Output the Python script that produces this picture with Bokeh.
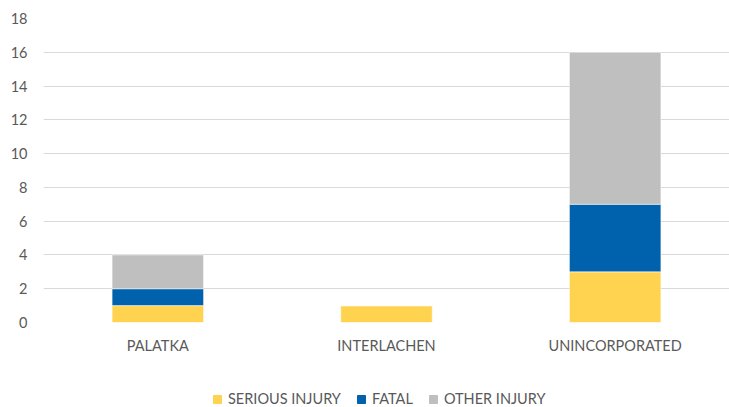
from bokeh.plotting import figure
from bokeh.models import ColumnDataSource, Range1d, FixedTicker, Legend, LegendItem
from bokeh.layouts import column
from bokeh.embed import file_html
from bokeh.resources import INLINE

categories = ["PALATKA", "INTERLACHEN", "UNINCORPORATED"]
serious = [1, 1, 3]
fatal = [1, 0, 4]
other = [2, 0, 9]
series_names = ["SERIOUS INJURY", "FATAL", "OTHER INJURY"]
colors = ["#FFD34F", "#0062AC", "#BFBFBF"]
y_ticks = list(range(0, 19, 2))

font = "Lato"
txt = "#595959"
fs = "14.5px"

source = ColumnDataSource(dict(cat=categories, serious=serious, fatal=fatal, other=other))

p = figure(x_range=categories, y_range=Range1d(0, 18), width=729, height=360,
           output_backend="svg", toolbar_location=None,
           min_border_left=43, min_border_right=0, min_border_top=18, min_border_bottom=38)
p.outline_line_color = None

rs = p.vbar_stack(["serious", "fatal", "other"], x="cat", width=0.4, color=colors,
                  line_color="white", line_width=0.5, source=source)

p.yaxis.ticker = FixedTicker(ticks=y_ticks)
p.yaxis.axis_line_color = None
p.yaxis.major_tick_line_color = None
p.yaxis.minor_tick_line_color = None
p.yaxis.major_label_text_font = font
p.yaxis.major_label_text_font_size = fs
p.yaxis.major_label_text_color = txt
p.yaxis.major_label_standoff = 10

p.xaxis.axis_line_color = None
p.xaxis.major_tick_line_color = None
p.xaxis.minor_tick_line_color = None
p.xaxis.major_label_text_font = font
p.xaxis.major_label_text_font_size = fs
p.xaxis.major_label_text_color = txt
p.xaxis.major_label_standoff = 8

p.xgrid.grid_line_color = None
p.ygrid.grid_line_color = "#D9D9D9"
p.ygrid.grid_line_width = 1
p.ygrid.ticker = FixedTicker(ticks=y_ticks)

# legend strip below the chart (its bars sit outside the visible y range)
lp = figure(width=729, height=47, x_range=categories, y_range=Range1d(100, 101),
            output_backend="svg", toolbar_location=None,
            min_border_left=0, min_border_right=0, min_border_top=0, min_border_bottom=0)
lp.outline_line_color = None
lp.axis.visible = False
lp.grid.visible = False
lrs = lp.vbar_stack(["serious", "fatal", "other"], x="cat", width=0.4, color=colors, source=source)

legend = Legend(items=[LegendItem(label=n, renderers=[r]) for n, r in zip(series_names, lrs)],
                location=(169, 0), orientation="horizontal",
                label_text_font=font, label_text_font_size=fs, label_text_color=txt,
                glyph_width=10, glyph_height=10, label_height=14, label_standoff=6, spacing=15,
                padding=0, margin=0, border_line_color=None, background_fill_alpha=0)
lp.add_layout(legend, "center")

layout = column(p, lp, spacing=0)
open("out.html", "w").write(file_html(layout, INLINE))
